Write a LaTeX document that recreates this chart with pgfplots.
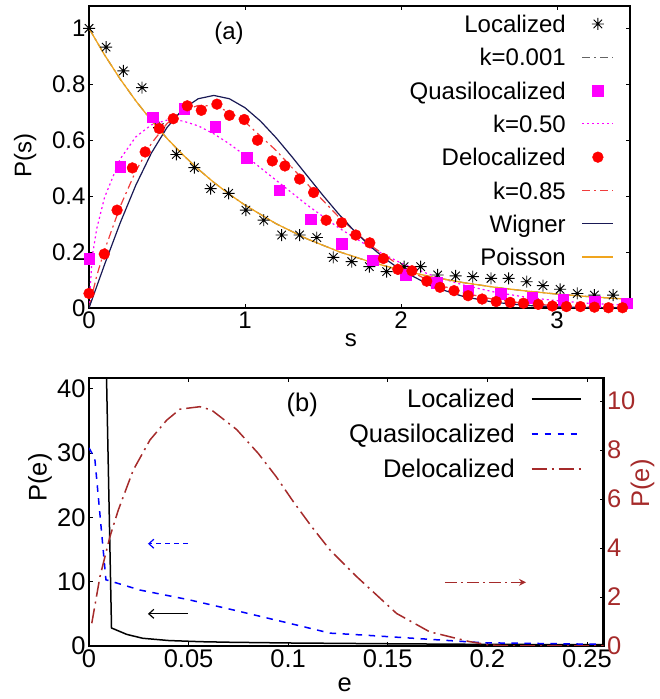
\documentclass[border=0pt]{standalone}
\usepackage{fontspec}
\setmainfont{Liberation Sans}
\usepackage{pgfplots}
\pgfplotsset{compat=1.18}
\usetikzlibrary{arrows.meta}

\definecolor{gpgray}{RGB}{100,100,100}
\definecolor{gpmag}{RGB}{255,0,255}
\definecolor{gpred}{RGB}{255,0,0}
\definecolor{gpblue}{RGB}{0,0,255}
\definecolor{gpk85}{RGB}{240,60,60}
\definecolor{gpnavy}{RGB}{25,25,85}
\definecolor{gporange}{RGB}{240,165,30}
\definecolor{gpbrown}{RGB}{165,42,42}

\newcommand\fa{\fontsize{24}{28}\selectfont}
\newcommand\fb{\fontsize{25.5}{30}\selectfont}

% gnuplot-like 8-arm star
\pgfdeclareplotmark{gpstar}{%
  \pgfpathmoveto{\pgfqpoint{-\pgfplotmarksize}{0pt}}\pgfpathlineto{\pgfqpoint{\pgfplotmarksize}{0pt}}%
  \pgfpathmoveto{\pgfqpoint{0pt}{-\pgfplotmarksize}}\pgfpathlineto{\pgfqpoint{0pt}{\pgfplotmarksize}}%
  \pgfpathmoveto{\pgfqpoint{-.707\pgfplotmarksize}{-.707\pgfplotmarksize}}\pgfpathlineto{\pgfqpoint{.707\pgfplotmarksize}{.707\pgfplotmarksize}}%
  \pgfpathmoveto{\pgfqpoint{-.707\pgfplotmarksize}{.707\pgfplotmarksize}}\pgfpathlineto{\pgfqpoint{.707\pgfplotmarksize}{-.707\pgfplotmarksize}}%
  \pgfusepathqstroke}

\pgfplotsset{
  gp/.style={
    scale only axis,
    anchor=south west,
    axis line style={line width=2.4pt},
    tick style={line width=0.8pt, black},
    major tick length=4pt,
    tick align=inside,
    /pgf/number format/assume math mode=true,
  },
  lgmarkA/.style={legend image code/.code={\draw[mark repeat=2,mark phase=2,##1] plot coordinates {(0pt,0pt) (15.5pt,0pt) (31pt,0pt)};}},
  lglineA/.style={legend image code/.code={\draw[##1] (0pt,0pt) -- (31pt,0pt);}},
  lglineB/.style={legend image code/.code={\draw[##1] (0pt,0pt) -- (49pt,0pt);}},
}

\begin{document}
\begin{tikzpicture}
\useasboundingbox (0pt,0pt) rectangle (659pt,699pt);

% ---------------- panel (a)
\begin{axis}[gp,
  at={(89pt,391pt)}, width=541pt, height=302pt,
  xmin=0, xmax=3.468, ymin=0, ymax=1.08,
  xtick={0,1,2,3},
  ytick={0,0.2,0.4,0.6,0.8,1},
  yticklabels={0,0.2,0.4,0.6,0.8,1},
  tick label style={font=\fa},
  xlabel={s}, ylabel={P(s)},
  label style={font=\fa},
  xlabel style={at={(axis description cs:0.484,-0.106)}, anchor=center},
  ylabel style={at={(axis description cs:-0.118,0.505)}, anchor=center},
  legend cell align=right, legend plot pos=right,
  legend style={draw=none, fill=none, inner sep=0pt, outer sep=0pt,
    at={(0.9705,0.969)}, anchor=north east, font=\fa,
    row sep=16.1pt, column sep=16pt,
    nodes={inner sep=0pt, text height=17.2pt, text depth=0pt}},
]
\addplot[only marks, mark=gpstar, mark size=6pt, black, line width=0.9pt, lgmarkA] coordinates {
 (0,1.0) (0.11,0.933) (0.22,0.848) (0.34,0.788) (0.45,0.645) (0.56,0.549) (0.675,0.502)
 (0.78,0.427) (0.895,0.41) (1.006,0.35) (1.12,0.314) (1.235,0.261) (1.35,0.261) (1.46,0.252)
 (1.566,0.181) (1.684,0.166) (1.797,0.148) (1.908,0.13) (2.02,0.148) (2.126,0.148) (2.235,0.118)
 (2.35,0.115) (2.46,0.112) (2.577,0.106) (2.69,0.106) (2.806,0.094) (2.91,0.08) (3.02,0.067)
 (3.13,0.052) (3.24,0.046) (3.36,0.046)
};
\addlegendentry{Localized}
\addplot[gpgray, line width=1.2pt, dash pattern=on 8pt off 4pt on 2pt off 4pt, lglineA] coordinates {
 (0,1) (0.1,0.9048) (0.2,0.8187) (0.3,0.7408) (0.4,0.6703) (0.5,0.6065) (0.6,0.5488) (0.7,0.4966)
 (0.8,0.4493) (0.9,0.4066) (1.0,0.3679) (1.2,0.3012) (1.4,0.2466) (1.6,0.2019) (1.8,0.1653)
 (2.0,0.1353) (2.2,0.1108) (2.4,0.0907) (2.6,0.0743) (2.8,0.0608) (3.0,0.0498) (3.2,0.0408)
 (3.4,0.0334) (3.468,0.0312)
};
\addlegendentry{k=0.001}
\addplot[only marks, mark=square*, mark size=5.3pt, gpmag, lgmarkA] coordinates {
 (0,0.177) (0.2,0.505) (0.41,0.683) (0.61,0.713) (0.81,0.648) (1.01,0.538) (1.22,0.421)
 (1.42,0.317) (1.62,0.231) (1.82,0.171) (2.03,0.118) (2.23,0.09) (2.43,0.064) (2.64,0.052)
 (2.84,0.037) (3.04,0.029) (3.24,0.023) (3.445,0.017)
};
\addlegendentry{Quasilocalized}
\addplot[gpmag, line width=1.2pt, dash pattern=on 2pt off 3pt, lglineA] coordinates {
 (0,0) (0.02,0.1815) (0.05,0.2849) (0.1,0.3959) (0.2,0.5329) (0.3,0.6120) (0.4,0.6550)
 (0.5,0.6718) (0.6,0.6690) (0.7,0.6514) (0.8,0.6229) (0.9,0.5869) (1.0,0.5457) (1.2,0.4564)
 (1.4,0.3677) (1.6,0.2868) (1.8,0.2176) (2.0,0.1608) (2.2,0.1162) (2.4,0.0821) (2.6,0.0569)
 (2.8,0.0387) (3.0,0.0259) (3.2,0.0170) (3.4,0.0110) (3.468,0.0096)
};
\addlegendentry{k=0.50}
\addplot[only marks, mark=*, mark size=5.4pt, gpred, lgmarkA] coordinates {
 (0,0.052) (0.098,0.193) (0.18,0.35) (0.278,0.501) (0.36,0.558) (0.45,0.642) (0.54,0.677)
 (0.63,0.723) (0.72,0.707) (0.82,0.729) (0.9,0.689) (0.995,0.674) (1.08,0.6) (1.175,0.526)
 (1.256,0.508) (1.35,0.461) (1.44,0.413) (1.52,0.314) (1.62,0.305) (1.71,0.261) (1.8,0.233)
 (1.887,0.177) (1.98,0.138) (2.07,0.133) (2.165,0.096) (2.25,0.074) (2.34,0.062) (2.43,0.044)
 (2.52,0.032) (2.61,0.023) (2.7,0.02) (2.785,0.017) (2.88,0.013) (2.97,0.007) (3.06,0.005)
 (3.15,0.005) (3.24,0.003) (3.33,0.001) (3.42,0.001)
};
\addlegendentry{Delocalized}
\addplot[gpk85, line width=1.2pt, dash pattern=on 8pt off 4pt on 2pt off 4pt, lglineA] coordinates {
 (0,0) (0.05,0.1161) (0.1,0.2075) (0.2,0.3632) (0.3,0.4897) (0.4,0.5884) (0.5,0.6597)
 (0.6,0.7044) (0.7,0.7244) (0.8,0.7224) (0.9,0.7015) (1.0,0.6655) (1.2,0.5630) (1.4,0.4427)
 (1.6,0.3261) (1.8,0.2260) (2.0,0.1480) (2.2,0.0918) (2.4,0.0541) (2.6,0.0303) (2.8,0.0162)
 (3.0,0.0082) (3.2,0.0040) (3.4,0.0018) (3.468,0.0014)
};
\addlegendentry{k=0.85}
\addplot[gpnavy, line width=1.2pt, lglineA] coordinates {
 (0,0) (0.1,0.1558) (0.2,0.3044) (0.3,0.4391) (0.4,0.5541) (0.5,0.6454) (0.6,0.7104)
 (0.7,0.7483) (0.8,0.7602) (0.9,0.7483) (1.0,0.7162) (1.1,0.6680) (1.2,0.6083) (1.3,0.5415)
 (1.4,0.4718) (1.5,0.4025) (1.6,0.3365) (1.7,0.2759) (1.8,0.2220) (1.9,0.1753) (2.0,0.1358)
 (2.2,0.0772) (2.4,0.0409) (2.6,0.0202) (2.8,0.0093) (3.0,0.0040) (3.2,0.0015) (3.468,0.0004)
};
\addlegendentry{Wigner}
\addplot[gporange, line width=1.3pt, lglineA] coordinates {
 (0,1) (0.1,0.9048) (0.2,0.8187) (0.3,0.7408) (0.4,0.6703) (0.5,0.6065) (0.6,0.5488) (0.7,0.4966)
 (0.8,0.4493) (0.9,0.4066) (1.0,0.3679) (1.2,0.3012) (1.4,0.2466) (1.6,0.2019) (1.8,0.1653)
 (2.0,0.1353) (2.2,0.1108) (2.4,0.0907) (2.6,0.0743) (2.8,0.0608) (3.0,0.0498) (3.2,0.0408)
 (3.4,0.0334) (3.468,0.0312)
};
\addlegendentry{Poisson}
\node[font=\fa] at (axis cs:0.897,0.984) {(a)};
\end{axis}

% ---------------- panel (b), left axis
\begin{axis}[gp,
  at={(89pt,53pt)}, width=514.5pt, height=268.2pt,
  xmin=0, xmax=0.2583, ymin=0, ymax=41.7,
  xtick={0,0.05,0.1,0.15,0.2,0.25},
  xticklabels={0,0.05,0.1,0.15,0.2,0.25},
  ytick={0,10,20,30,40},
  ytick pos=left,
  tick label style={font=\fb},
  xlabel={e}, ylabel={P(e)},
  label style={font=\fb},
  xlabel style={at={(axis description cs:0.497,-0.145)}, anchor=center},
  ylabel style={at={(axis description cs:-0.095,0.628)}, anchor=center},
  legend cell align=right, legend plot pos=right,
  legend style={draw=none, fill=none, inner sep=0pt, outer sep=0pt,
    at={(0.957,0.956)}, anchor=north east, font=\fb,
    row sep=16.7pt, column sep=16pt,
    nodes={inner sep=0pt, text height=18.3pt, text depth=0pt}},
]
\addplot[black, line width=1.5pt, lglineB] coordinates {
 (0.0057,90) (0.0113,2.8) (0.019,1.8) (0.027,1.2) (0.04,0.85) (0.056,0.67) (0.071,0.58)
 (0.1,0.47) (0.121,0.42) (0.15,0.35) (0.2,0.25) (0.2583,0.2)
};
\addlegendentry{Localized}
\addplot[gpblue, line width=1.5pt, dash pattern=on 6.5pt off 6.5pt, lglineB] coordinates {
 (0,30.8) (0.0029,29.2) (0.0085,10.3) (0.0256,8.7) (0.05,7.2) (0.0725,5.6) (0.101,3.5)
 (0.121,2.0) (0.1377,1.7) (0.171,1.04) (0.198,0.5) (0.248,0.3) (0.2583,0.28)
};
\addlegendentry{Quasilocalized}
\addlegendimage{gpbrown, line width=1.5pt, dash pattern=on 15pt off 5pt on 2pt off 5pt, lglineB}
\addlegendentry{Delocalized}
\draw[gpblue, line width=1.2pt, dash pattern=on 5pt off 4pt, -{Straight Barb[length=5pt,width=9pt]}]
  (axis cs:0.0497,15.9) -- (axis cs:0.0296,15.9);
\draw[black, line width=1.2pt, -{Straight Barb[length=5pt,width=9pt]}]
  (axis cs:0.0497,5.0) -- (axis cs:0.0296,5.0);
\node[font=\fb] at (axis cs:0.1071,37.5) {(b)};
\end{axis}

% ---------------- panel (b), right axis
\begin{axis}[gp,
  at={(89pt,53pt)}, width=514.5pt, height=268.2pt,
  xmin=0, xmax=0.2583, ymin=0, ymax=10.95,
  axis x line=none, axis y line*=right,
  ytick={0,2,4,6,8,10},
  tick label style={font=\fb, text=gpbrown},
  ylabel={P(e)},
  label style={font=\fb, text=gpbrown},
  ylabel style={at={(axis description cs:1.0757,0.606)}, anchor=center, rotate=0},
]
\addplot[gpbrown, line width=1.5pt, dash pattern=on 15pt off 5pt on 2pt off 5pt] coordinates {
 (0.0014,0.93) (0.0055,2.83) (0.0105,4.46) (0.0147,5.55) (0.0222,7.18) (0.0306,8.41)
 (0.039,9.22) (0.0457,9.67) (0.0557,9.77) (0.0616,9.63) (0.0741,8.84) (0.085,7.86)
 (0.094,6.91) (0.1026,5.89) (0.1118,4.87) (0.121,3.92) (0.1344,2.83) (0.1544,1.33)
 (0.171,0.58) (0.191,0.18) (0.201,0.04) (0.213,0) (0.2583,0)
};
\draw[gpbrown, line width=1.2pt, dash pattern=on 12pt off 4pt on 2pt off 4pt, -{Stealth[length=7pt,width=7pt]}]
  (axis cs:0.1787,2.6) -- (axis cs:0.2194,2.6);
\end{axis}
\end{tikzpicture}
\end{document}
